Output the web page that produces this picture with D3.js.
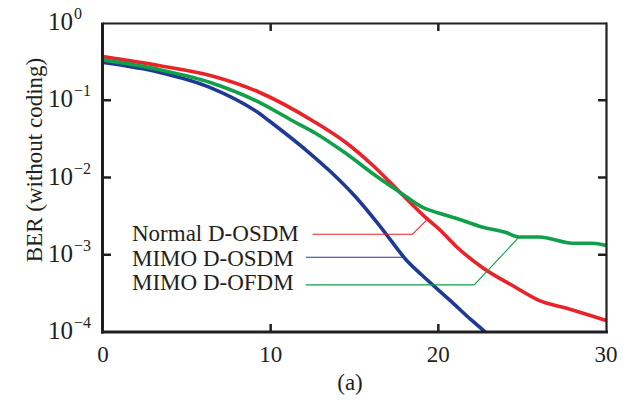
<!DOCTYPE html>
<meta charset="utf-8">
<style>
body { margin: 0; background: #fff; }
</style>
<body>
<script src="https://d3js.org/d3.v7.min.js"></script>
<script>

var width = 631, height = 400;
var serif = "'Liberation Serif', serif";

// SNR (dB) and BER
var normalX = [0, 3.4, 6.4, 9.35, 12.5, 14.5, 16.1, 17.7, 19.3, 20.1, 21.1, 22.6, 24.6, 26, 27.6, 30];
var normalBer = [0.367, 0.279, 0.209, 0.126, 0.0543, 0.0282, 0.0143, 0.00646, 0.00295, 0.00209, 0.00126, 0.00069, 0.00038, 0.000257, 0.000204, 0.000141];

var osdmX = [0, 3.4, 6.4, 9.35, 9.9, 12.3, 13.5, 15.1, 16.7, 18.1, 19, 20.7, 22, 22.8];
var osdmBer = [0.308, 0.229, 0.146, 0.0668, 0.0543, 0.0209, 0.0123, 0.0055, 0.00209, 0.000851, 0.00055, 0.000257, 0.000141, 0.0001];

var ofdmX = [0, 3.4, 6.4, 9.35, 11.3, 12.7, 14.5, 16.1, 17.7, 19.1, 20, 21.1, 22.6, 24, 24.8, 26, 28, 29.2, 30];
var ofdmBer = [0.333, 0.248, 0.17, 0.0933, 0.0543, 0.0372, 0.0204, 0.0112, 0.00646, 0.00407, 0.00347, 0.00295, 0.00229, 0.00195, 0.0017, 0.0017, 0.00141, 0.00141, 0.00132];

var labels = ["Normal D-OSDM", "MIMO D-OSDM", "MIMO D-OFDM"];
var colors = ["#e8232a", "#1f3a93", "#11a049"];

// leader lines from legend text to curves, in data units
var leaders = [
  [[12.5, 0.00184], [18.45, 0.00184], [19.3, 0.0028]],
  [[12.1, 0.00093], [17.97, 0.00093]],
  [[12.1, 0.000407], [22.14, 0.000407], [24.82, 0.0017]]
];

var xTicks = [0, 10, 20, 30];
var yExp = [0, -1, -2, -3, -4];

var x = d3.scaleLinear().domain([0, 30]).range([103, 606]);
var y = d3.scaleLog().domain([1e-4, 1]).range([332, 23]);

var svg = d3.select("body").append("svg")
    .attr("width", width)
    .attr("height", height)
    .attr("font-family", serif)
    .style("font-family", serif);

var series = [
  {x: normalX, v: normalBer},
  {x: osdmX, v: osdmBer},
  {x: ofdmX, v: ofdmBer}
];

var line = d3.line()
    .x(function(d){ return x(d[0]); })
    .y(function(d){ return y(d[1]); })
    .curve(d3.curveMonotoneX);

svg.append("defs").append("clipPath").attr("id", "clip")
  .append("rect").attr("x", 103).attr("y", 23).attr("width", 503).attr("height", 309);

series.forEach(function(s, i){
  svg.append("path")
    .datum(s.x.map(function(xx, j){ return [xx, s.v[j]]; }))
    .attr("clip-path", "url(#clip)")
    .attr("fill", "none")
    .attr("stroke", colors[i])
    .attr("stroke-width", 3.6)
    .attr("stroke-linejoin", "round")
    .attr("d", line);
});

// leaders
var straight = d3.line()
    .x(function(d){ return x(d[0]); })
    .y(function(d){ return y(d[1]); });
leaders.forEach(function(l, i){
  svg.append("path")
    .attr("d", straight(l))
    .attr("fill", "none")
    .attr("stroke", colors[i])
    .attr("stroke-width", 1.1);
});

// legend text
var ink = "#231f20";
var baselines = [241, 265.5, 290];
labels.forEach(function(t, i){
  svg.append("text")
    .attr("x", 132).attr("y", baselines[i])
    .attr("font-size", 23)
    .attr("fill", ink)
    .text(t);
});

// frame
svg.append("line").attr("x1", 103).attr("x2", 607).attr("y1", 23.5).attr("y2", 23.5)
  .attr("stroke", ink).attr("stroke-width", 2.2);
svg.append("line").attr("x1", 606.5).attr("x2", 606.5).attr("y1", 22.5).attr("y2", 333)
  .attr("stroke", ink).attr("stroke-width", 2.2);
svg.append("line").attr("x1", 101).attr("x2", 608).attr("y1", 332).attr("y2", 332)
  .attr("stroke", ink).attr("stroke-width", 3);
svg.append("line").attr("x1", 102.5).attr("x2", 102.5).attr("y1", 22.5).attr("y2", 333.5)
  .attr("stroke", ink).attr("stroke-width", 3);

// ticks on all four sides, pointing in
xTicks.slice(1, -1).forEach(function(t){
  svg.append("line").attr("x1", x(t)).attr("x2", x(t)).attr("y1", 332).attr("y2", 324)
    .attr("stroke", ink).attr("stroke-width", 2.5);
  svg.append("line").attr("x1", x(t)).attr("x2", x(t)).attr("y1", 23).attr("y2", 31)
    .attr("stroke", ink).attr("stroke-width", 2.5);
});
yExp.slice(1, -1).forEach(function(e){
  var yy = y(Math.pow(10, e));
  svg.append("line").attr("x1", 103).attr("x2", 111).attr("y1", yy).attr("y2", yy)
    .attr("stroke", ink).attr("stroke-width", 2.5);
  svg.append("line").attr("x1", 606).attr("x2", 598).attr("y1", yy).attr("y2", yy)
    .attr("stroke", ink).attr("stroke-width", 2.5);
});

// x tick labels
xTicks.forEach(function(t){
  svg.append("text")
    .attr("x", x(t)).attr("y", 362)
    .attr("text-anchor", "middle")
    .attr("font-size", 23)
    .attr("fill", ink)
    .text(t);
});

// y tick labels 10^e
yExp.forEach(function(e){
  var yy = y(Math.pow(10, e));
  var t = svg.append("text")
    .attr("x", 48).attr("y", yy + 7)
    .attr("font-size", 25)
    .attr("fill", ink);
  t.append("tspan").text("10");
  t.append("tspan").attr("dy", -11).attr("dx", 1).attr("font-size", 16)
    .text(e === 0 ? "0" : "\u2212" + (-e));
});

// axis title
svg.append("text")
  .attr("transform", "translate(42,160) rotate(-90)")
  .attr("text-anchor", "middle")
  .attr("font-size", 23)
  .attr("fill", ink)
  .text("BER (without coding)");

svg.append("text")
  .attr("x", 350).attr("y", 390)
  .attr("text-anchor", "middle")
  .attr("font-size", 23)
  .attr("fill", ink)
  .text("(a)");

</script>
</body>
